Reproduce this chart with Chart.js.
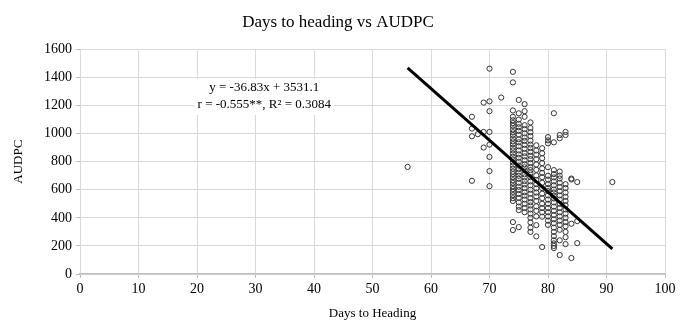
<!DOCTYPE html>
<html>
<head>
<meta charset="utf-8">
<script src="https://cdn.jsdelivr.net/npm/chart.js@4/dist/chart.umd.min.js"></script>
<style>
  html, body { margin: 0; padding: 0; background: #fff; }
  #wrap { width: 680px; height: 325px; }
</style>
</head>
<body>
<div id="wrap"><canvas id="grafico"></canvas></div>
<script>
const diasColumnas = [56, 67, 68, 69, 70, 72, 74, 75, 76, 77, 78, 79, 80, 81, 82, 83, 84, 85, 91];
const audpcColumnas = [
    [763],
    [1120, 1036, 981, 664],
    [996],
    [1221, 1012, 901],
    [1463, 1230, 1160, 1012, 922, 834, 733, 626],
    [1257],
    [1440, 1365, 1165, 1120, 1095, 1075, 1055, 1030, 1010, 990, 965, 945, 925, 900, 880, 858, 835, 815, 795, 772, 750, 730, 712, 690, 668, 648, 625, 605, 585, 562, 540, 520, 370, 313],
    [1240, 1145, 1100, 1070, 1045, 1020, 992, 960, 938, 910, 880, 852, 828, 800, 772, 748, 722, 700, 678, 650, 622, 598, 570, 542, 510, 480, 455, 334],
    [1210, 1160, 1120, 1060, 1032, 1002, 972, 948, 920, 892, 862, 838, 810, 782, 760, 738, 710, 688, 662, 638, 612, 582, 558, 530, 500, 470, 440],
    [1080, 1040, 1010, 982, 950, 922, 898, 870, 842, 818, 790, 762, 740, 718, 690, 660, 632, 600, 572, 540, 512, 488, 460, 430, 400, 368, 330, 300],
    [917, 880, 850, 818, 780, 742, 702, 670, 640, 610, 580, 552, 520, 482, 450, 410, 348, 268],
    [896, 860, 825, 790, 752, 720, 690, 650, 612, 572, 540, 500, 470, 440, 408, 192],
    [975, 952, 931, 761, 700, 672, 640, 612, 590, 560, 530, 500, 470, 440, 410, 380, 350],
    [1145, 938, 740, 712, 688, 660, 632, 602, 580, 558, 538, 510, 480, 450, 420, 390, 362, 330, 300, 270, 240, 218, 200, 185],
    [990, 967, 730, 700, 680, 650, 620, 590, 560, 530, 500, 470, 440, 410, 380, 350, 315, 240, 135],
    [1012, 990, 640, 612, 580, 550, 520, 490, 460, 430, 400, 370, 340, 300, 262, 213],
    [680, 673, 358, 114],
    [655, 377, 220],
    [655]
];

// recta de tendencia y = -36.83x + 3531.1 (extremos)
const tendenciaX = [56, 91];
const tendenciaY = [1468.6, 179.6];

const ecuacion = "y = -36.83x + 3531.1";
const correlacion = "r = -0.555**, R² = 0.3084";

const ticksX = { min: 0, max: 100, paso: 10 };
const ticksY = { min: 0, max: 1600, paso: 200 };

function armarPuntos() {
    const puntos = [];
    diasColumnas.forEach((dia, i) => {
        audpcColumnas[i].forEach(valor => puntos.push({ x: dia, y: valor }));
    });
    return puntos;
}

const fuente = "'Liberation Serif', 'Times New Roman', serif";

// texto de la ecuación con fondo blanco sobre la cuadrícula
const pluginEcuacion = {
    id: "ecuacion",
    afterDatasetsDraw(chart) {
        const ctx = chart.ctx;
        const cx = chart.scales.x.getPixelForValue(31.5);
        const cy = chart.scales.y.getPixelForValue(1325);
        ctx.save();
        ctx.font = "13px " + fuente;
        ctx.textAlign = "center";
        ctx.textBaseline = "middle";
        const w = Math.max(ctx.measureText(ecuacion).width, ctx.measureText(correlacion).width) + 6;
        ctx.fillStyle = "#fff";
        ctx.fillRect(cx - w / 2, cy - 9, w, 36);
        ctx.fillStyle = "#000";
        ctx.fillText(ecuacion, cx, cy);
        ctx.fillText(correlacion, cx, cy + 17);
        ctx.restore();
    }
};

function crearGrafico(canvas) {
    return new Chart(canvas, {
        type: "scatter",
        data: {
            datasets: [
                {
                    label: "Tendencia",
                    type: "line",
                    data: tendenciaX.map((x, i) => ({ x, y: tendenciaY[i] })),
                    borderColor: "#000",
                    borderWidth: 3,
                    pointRadius: 0,
                    order: 0
                },
                {
                    label: "AUDPC",
                    data: armarPuntos(),
                    backgroundColor: "rgba(255,255,255,0)",
                    borderColor: "#333",
                    borderWidth: 1,
                    pointRadius: 2.6,
                    order: 1
                }
            ]
        },
        options: {
            responsive: true,
            maintainAspectRatio: false,
            animation: false,
            layout: { padding: { left: 11, right: 15, top: 0, bottom: 4 } },
            scales: {
                x: {
                    type: "linear",
                    min: ticksX.min,
                    max: ticksX.max,
                    ticks: { stepSize: ticksX.paso, color: "#000", font: { family: fuente, size: 14 }, padding: 3 },
                    grid: { color: "#d9d9d9", tickLength: 4, tickColor: "#bfbfbf" },
                    border: { color: "#bfbfbf", width: 1.5 },
                    title: { display: true, text: "Days to Heading", color: "#000", font: { family: fuente, size: 13 }, padding: { top: 6, bottom: 0 } },
                    afterFit(scale) { scale.height = 47; }
                },
                y: {
                    min: ticksY.min,
                    max: ticksY.max,
                    ticks: {
                        stepSize: ticksY.paso, color: "#000", font: { family: fuente, size: 14 }, padding: 4,
                        callback: valor => String(valor)
                    },
                    grid: { color: "#d9d9d9", tickLength: 4, tickColor: "#bfbfbf" },
                    border: { display: false },
                    title: { display: true, text: "AUDPC", color: "#000", font: { family: fuente, size: 13 }, padding: { top: 0, bottom: 4 } },
                    afterFit(scale) { scale.width = 69; }
                }
            },
            plugins: {
                legend: { display: false },
                tooltip: { enabled: false },
                title: {
                    display: true,
                    text: "Days to heading vs AUDPC",
                    color: "#000",
                    font: { family: fuente, size: 17, weight: "normal" },
                    padding: { top: 12, bottom: 17 }
                }
            }
        },
        plugins: [pluginEcuacion]
    });
}

crearGrafico(document.getElementById("grafico"));
</script>
</body>
</html>
